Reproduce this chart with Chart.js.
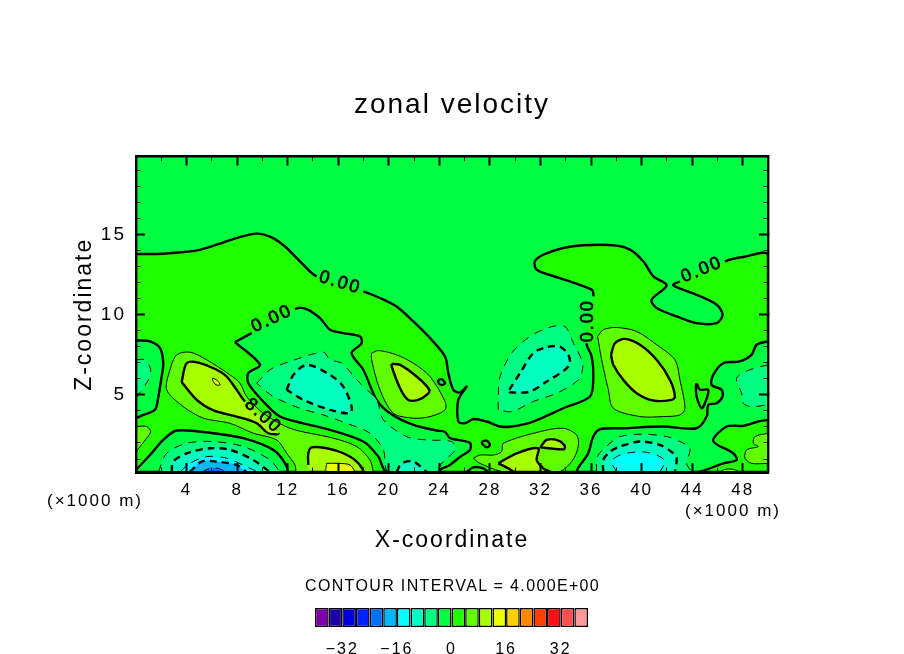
<!DOCTYPE html>
<html>
<head>
<meta charset="utf-8">
<style>
body{margin:0;background:#fff;}
#plot{position:absolute;left:0;top:0;}
#bar{position:absolute;left:290px;top:600px;}
.cap{position:absolute;font-family:"Liberation Sans",sans-serif;color:#000;white-space:nowrap;letter-spacing:2px;line-height:20px;}
</style>
<script src="https://cdn.jsdelivr.net/npm/chart.js@4"></script>
</head>
<body>
<canvas id="plot" width="904" height="654"></canvas>
<canvas id="bar" width="320" height="54"></canvas>
<div class="cap" style="left:47px;top:491px;font-size:17px;">(×1000 m)</div>
<div class="cap" style="left:685px;top:501px;font-size:17px;">(×1000 m)</div>
<div class="cap" style="left:305px;top:576px;font-size:16px;letter-spacing:1.35px;">CONTOUR INTERVAL = 4.000E+00</div>
<script>
const xMajorTicks=[4,8,12,16,20,24,28,32,36,40,44,48];
const xMinorTicks=[2,6,10,14,18,22,26,30,34,38,42,46,50];
const zMajorTicks=[5,10,15];
const zMinorTicks=[1,2,3,4,6,7,8,9,11,12,13,14,16,17,18,19];
const xRange=[0,50];
const zRange=[0.19,19.875];

// colour of each 4 unit band, lowest first (-40 to 40)
const bandColors=['#7f00a8','#1a00a5','#0000dc','#0020ff','#0070ff','#00b8ff','#00ffff','#00ffc0','#00ff80','#00ff40',
  '#20ff00','#60ff00','#a8ff00','#e8ff00','#ffd000','#ff8800','#ff4000','#ff1010','#ff5050','#ff9898'];
const bandCells=[1,1,1,1,1,1,1,1,1,1,1,1,1,1,1,1,1,1,1,1];
const bandNames=['-40','-36','-32','-28','-24','-20','-16','-12','-8','-4','0','4','8','12','16','20','24','28','32','36'];
const bandTicks=[-32,-16,0,16,32];

// contour lines, [x,z]
const zeroTop=[[0,13.79],[2.16,13.81],[3.48,13.9],[4.8,14.02],[6.38,14.38],[7.96,14.79],[9.55,15.07],[10.86,14.79],[11.92,14.17],[12.97,13.34],[14.29,12.4],[17.98,11.46],[19.3,11.05],[20.62,10.52],[21.94,9.59],[23.26,8.55],[24.45,7.4],[24.71,6.36],[25.1,5.32],[25.63,5.15],[26.16,5.53],[25.5,4.69],[25.5,3.34],[26.03,3.23],[26.69,3.5],[27.74,3.34],[28.8,3.03],[29.72,3.03],[31.43,3.34],[33.81,4.17],[35.92,4.9],[36.18,6.15],[36.05,7.4],[35.65,8.23],[36.18,11.15],[36.05,11.57],[33.54,12.29],[31.7,12.82],[31.56,13.34],[32.22,13.75],[33.81,14.17],[35.39,14.34],[37.76,14.34],[39.08,14.07],[40.13,13.34],[40.93,12.4],[41.98,11.84],[40.79,10.94],[41.19,10.42],[42.77,9.9],[44.35,9.48],[45.94,9.48],[46.41,10],[45.94,10.63],[44.35,11.25],[42.51,11.84],[43.03,12.09],[46.59,13.34],[48.05,13.61],[50,13.71],[50,0.19],[0,0.19]];
const zeroTongue=[[7.83,8.3],[9.15,8.86],[12.58,10.36],[13.5,10.36],[14.56,9.79],[15.35,9.07],[16.4,8.86],[17.72,8.65],[17.85,8.23],[17.06,7.61],[17.98,6.57],[19.04,4.69],[20.09,3.86],[21.94,3.13],[23.79,2.78],[24.45,2.69],[24.84,2.31],[25.47,2.19],[26.42,2],[26.42,1.56],[25.63,1.13],[24.84,0.63],[24.1,0.35],[24,0.19],[19.83,0.19],[19.17,1.15],[17.98,2.09],[15.35,2.82],[13.24,3.23],[11.39,3.65],[10.07,4.59],[8.89,5.73],[8.89,6.36],[9.81,6.88],[7.83,8.3]];
const zeroLeft=[[0,8.4],[1.11,8.34],[1.9,7.92],[2.16,6.98],[2.03,6.15],[1.77,4.9],[1.5,4.07],[0.58,3.75],[0,3.55]];
const zeroBottomLeft=[[0,0.32],[1.11,1.25],[2.16,2.19],[3.22,2.78],[6.12,2.61],[8.49,2.3],[10.86,1.57],[11.79,0.73],[11.92,0.19],[0,0.19]];
const zeroRight=[[50,8.34],[49.1,8.13],[48.7,7.5],[47.78,7.09],[46.46,6.98],[45.67,6.25],[45.54,5.63],[46.33,5.32],[46.41,4.9],[45.94,4.48],[45.28,4.38],[45.15,3.65],[44.35,2.92],[41.72,3.03],[38.55,2.92],[36.71,2.86],[36.18,2.4],[35.78,1.36],[34.99,0.19],[44.35,0.19],[46.46,0.73],[47.52,0.94],[47.25,1.36],[45.67,2.13],[46.73,3.03],[48.05,3.07],[49.23,3.34],[50,3.44]];
const zeroSliver=[[44.35,5.73],[44.62,5.32],[45.28,5.32],[45.01,4.48],[44.75,4.17],[44.35,4.9],[44.3,5.52],[44.35,5.73]];
const zeroDotA=[[23.92,5.94],[24.18,5.98],[24.45,5.73],[24.18,5.61],[23.92,5.77],[23.92,5.94]];
const zeroDotB=[[27.35,2.09],[27.74,2.15],[28,1.88],[27.74,1.73],[27.4,1.94],[27.35,2.09]];
const zeroDotC=[[26.16,0.19],[26.69,0.48],[27.48,0.42],[27.87,0.19]];

const fourLobe=[[12.66,0.19],[12.58,0.63],[11.92,1.36],[11.13,2.19],[9.28,2.61],[7.44,3.23],[5.33,3.55],[3.74,4.27],[2.43,5.32],[2.69,6.57],[3.22,7.5],[4.27,7.67],[5.59,7.19],[7.44,6.25],[8.23,5.73],[8.75,4.9],[10.07,3.86],[12.18,2.92],[15.61,2.3],[17.46,1.78],[18.51,0.94],[18.78,0.19]];
const fourMid=[[18.64,7.61],[19.17,7.77],[20.62,7.5],[21.94,6.98],[23.26,6.15],[24.45,4.59],[24.45,4.07],[23.26,3.65],[21.94,3.55],[20.36,3.86],[19.3,5.32],[18.64,7.19],[18.64,7.61]];
const fourRight=[[36.52,8.65],[36.97,9.07],[38.03,9.21],[39.61,8.96],[41.19,8.13],[42.64,7.19],[43.03,5.94],[43.43,4.17],[43.03,3.75],[41.72,3.65],[39.87,3.65],[37.76,4.17],[37.37,5.32],[36.84,7.19],[36.52,8.65]];
const fourBottom=[[26.69,1.05],[27.21,1.25],[28.27,1.25],[28.93,1.46],[29.06,1.98],[31.96,2.71],[33.81,2.92],[34.86,2.5],[34.99,1.78],[34.47,0.84],[33.41,0.19],[29.19,0.19],[27.21,0.73],[26.69,1.05]];
const fourEdgeLeft=[[0,3.03],[0.84,3.03],[1.16,2.71],[0.84,2.3],[0,1.46]];
const fourEdgeRight=[[50,2.61],[48.97,2.4],[48.84,1.98],[49.23,1.78],[48.31,1.57],[48.18,1.05],[48.7,0.73],[50,0.73]];
const fourSmall=[[46.2,0.19],[46.6,0.36],[47.25,0.36],[47.78,0.19]];

const eightLobe=[[3.61,5.8],[4.01,6.98],[4.93,7.02],[6.38,6.57],[7.17,6.15],[7.96,5.32],[8.62,4.59],[11.26,2.61],[10.47,2.61],[9.55,3.23],[7.96,3.65],[6.12,4.03],[4.8,4.69],[3.61,5.8]];
const eightBottom=[[13.63,0.63],[13.63,1.36],[13.9,1.73],[15.08,1.67],[16.4,1.36],[17.46,0.84],[17.93,0.19],[13.63,0.19]];
const eightMid=[[20.23,6.94],[20.89,6.88],[22.2,6.15],[23.21,5.32],[22.99,5],[22.34,4.69],[21.54,4.69],[20.89,5.42],[20.23,6.77],[20.23,6.94]];
const eightRight=[[37.58,7.5],[37.89,8.23],[38.68,8.5],[39.87,8.13],[41.19,7.19],[42.24,5.94],[42.64,4.9],[42.38,4.69],[40.93,4.65],[39.61,5.11],[38.55,5.94],[37.76,6.88],[37.58,7.5]];
const eightBottomMid=[[28.66,0.73],[30.11,1.36],[31.83,1.67],[31.7,0.94],[32.22,0.42],[32.75,0.19],[29.98,0.19],[29.45,0.42],[28.66,0.73]];
const eightSmall=[[32.01,1.77],[32.49,2.19],[33.28,2.19],[33.88,1.88],[33.88,1.61],[32.01,1.73],[32.01,1.77]];

const twelveTiny=[[6.07,6.05],[6.43,5.9],[6.65,5.63],[6.33,5.63],[6.07,5.9],[6.07,6.05]];
const twelveBottom=[[15.08,0.73],[16,0.73],[16.93,0.63],[17.25,0.19],[15.08,0.19],[15.08,0.73]];

const minusFourLeft=[[0,7.19],[0.71,7.19],[1.16,6.57],[0.98,5.94],[0,4.8]];
const minusFourBottomLeft=[[1.77,0.19],[2.43,1.36],[4.01,1.98],[6.12,2.09],[8.49,1.78],[10.6,0.94],[11.39,0.19]];
const minusFourTongue=[[9.55,5.73],[10.6,6.57],[12.18,7.09],[14.82,7.67],[15.35,7.19],[16.27,6.98],[17.72,5.73],[19.04,4.69],[19.57,3.44],[21.41,2.4],[22.99,2.19],[24.97,2.09],[25.24,1.57],[24.45,0.94],[23.92,0.48],[23.65,0.19],[19.96,0.19],[19.57,1.57],[18.51,2.61],[16.67,3.23],[14.82,3.75],[12.97,4.17],[10.86,4.9],[9.55,5.73]];
const minusFourCentre=[[28.66,4.07],[28.66,4.9],[28.8,6.15],[29.72,7.61],[31.17,8.65],[32.75,9.23],[33.94,9.27],[34.6,8.23],[35.26,7.19],[35.34,6.67],[35,5.94],[33.28,5.11],[31.43,4.59],[29.72,3.96],[28.66,4.07]];
const minusFourRight=[[50,6.88],[48.57,6.57],[47.52,6.05],[47.91,5.11],[48.05,4.48],[48.7,4.27],[50,4.38]];
const minusFourBottom=[[36.44,0.19],[36.5,1.15],[37.5,1.98],[38.29,2.4],[40.13,2.55],[41.98,2.4],[43.03,2.09],[43.83,1.67],[43.56,0.73],[43.96,0.19]];

const minusEightBottomLeft=[[2.82,0.19],[2.95,0.84],[4.01,1.36],[5.85,1.67],[7.44,1.57],[9.28,0.94],[10.6,0.19]];
const minusEightTongue=[[11.92,5.32],[12.45,6.25],[13.5,6.88],[15.35,6.25],[16.4,5.52],[17.06,4.27],[16.93,3.86],[15.35,4.07],[13.24,4.69],[11.92,5.32]];
const minusEightFoot=[[20.62,0.19],[21.02,0.73],[21.94,0.84],[22.99,0.19]];
const minusEightCentre=[[29.53,5.32],[30.38,6.36],[31.43,7.61],[32.49,7.98],[33.54,8.02],[34.2,7.5],[34.33,6.98],[33.94,6.57],[32.49,5.84],[31.17,5.21],[29.59,5.17],[29.53,5.32]];
const minusEightBottom=[[36.97,0.19],[36.97,0.94],[37.5,1.46],[38.29,1.78],[39.87,2.09],[41.45,1.88],[42.51,1.36],[42.77,1.05],[42.64,0.19]];

const minusTwelveBottomLeft=[[3.48,0.19],[4.27,0.73],[5.59,1.15],[7.17,1.05],[9.02,0.42],[9.68,0.19]];
const minusTwelveBottom=[[38.03,0.19],[37.63,0.84],[38.29,1.25],[39.34,1.42],[40.4,1.42],[41.45,1.15],[41.85,0.84],[41.45,0.19]];
const minusSixteenBottomLeft=[[4.27,0.19],[5.19,0.84],[6.38,0.84],[7.96,0.63],[8.75,0.19]];
const minusTwentyBottomLeft=[[5.19,0.19],[5.85,0.42],[6.51,0.42],[7.17,0.19]];

// text on the contours: x, z, text, angle
const contourLabels=[[16.14,12,'0.00',17],[10.76,9.75,'0.00',-25],[10.05,3.69,'8.00',42],[35.76,9.63,'0.00',-90],[44.77,12.81,'0.00',-22]];

const font='"Liberation Sans",sans-serif';

function bandColor(low){ return bandColors[(low+40)/4]; }
function nearLabel(p0,p1){
  const mx=(p0.parsed.x+p1.parsed.x)/2, mz=(p0.parsed.y+p1.parsed.y)/2;
  return contourLabels.some(l=>Math.abs(l[0]-mx)<0.6&&Math.abs(l[1]-mz)<0.5);
}
// low = bottom of the colour band inside, line = value of the contour
// one dataset for the fill, one for the line: a segment style would split the fill
function contour(points,low,line){
  return [
    {data:points,showLine:true,fill:'shape',backgroundColor:bandColor(low),borderWidth:0,pointRadius:0,tension:0.3},
    {data:points,showLine:true,fill:false,borderColor:'#000',
      borderWidth:line%8===0?2.4:1,borderDash:line<0?(line%8===0?[7,5]:[8,7]):[],
      pointRadius:0,tension:0.3,
      segment:{borderColor:c=>nearLabel(c.p0,c.p1)?'rgba(0,0,0,0)':undefined}}
  ];
}

// painted in this order, later ones on top
const painted=[
  contour(zeroTop,0,0),contour(zeroTongue,-4,0),contour(zeroLeft,-4,0),contour(zeroBottomLeft,-4,0),contour(zeroRight,-4,0),
  contour(zeroSliver,0,0),contour(zeroDotA,-4,0),contour(zeroDotB,0,0),contour(zeroDotC,0,0),
  contour(fourLobe,4,4),contour(fourMid,4,4),contour(fourRight,4,4),contour(fourBottom,4,4),contour(fourEdgeLeft,4,4),contour(fourEdgeRight,4,4),contour(fourSmall,4,4),
  contour(eightLobe,8,8),contour(eightBottom,8,8),contour(eightMid,8,8),contour(eightRight,8,8),contour(eightBottomMid,8,8),contour(eightSmall,8,8),
  contour(twelveTiny,12,12),contour(twelveBottom,12,12),
  contour(minusFourLeft,-8,-4),contour(minusFourBottomLeft,-8,-4),contour(minusFourTongue,-8,-4),contour(minusFourCentre,-8,-4),contour(minusFourRight,-8,-4),contour(minusFourBottom,-8,-4),
  contour(minusEightBottomLeft,-12,-8),contour(minusEightTongue,-12,-8),contour(minusEightFoot,-12,-8),contour(minusEightCentre,-12,-8),contour(minusEightBottom,-12,-8),
  contour(minusTwelveBottomLeft,-16,-12),contour(minusTwelveBottom,-16,-12),
  contour(minusSixteenBottomLeft,-20,-16),
  contour(minusTwentyBottomLeft,-24,-20)
].flat();

// inward tick axis without labels, the frame sides come from these too
function tickAxis(position,range,values,len,width,frame,size){
  return {type:'linear',position:position,min:range[0],max:range[1],weight:size?1:0,
    afterBuildTicks:s=>{s.ticks=values.map(v=>({value:v}));},
    afterFit:s=>{if(s.isHorizontal()) s.height=size||0; else s.width=size||0;},
    ticks:{display:false},
    border:{display:frame,color:'#000',width:2.4,z:2},
    grid:{drawOnChartArea:false,drawTicks:true,tickLength:-len,tickColor:'#000',tickWidth:width,z:1}};
}

const plotBack={id:'plotBack',
  beforeDraw(chart){
    const a=chart.chartArea, c=chart.ctx;
    c.letterSpacing='2px';
    c.save(); c.fillStyle=bandColor(-4); c.fillRect(a.left,a.top,a.width,a.height); c.restore();
  },
  afterDatasetsDraw(chart){
    const c=chart.ctx;
    c.save();
    c.fillStyle='#000'; c.strokeStyle='#000'; c.lineWidth=0.7;
    c.font='18px '+font; c.textAlign='center'; c.textBaseline='middle';
    contourLabels.forEach(l=>{
      c.save();
      c.translate(chart.scales.x.getPixelForValue(l[0]),chart.scales.y.getPixelForValue(l[1]));
      c.rotate(l[3]*Math.PI/180);
      c.fillText(l[2],0,0);
      c.strokeText(l[2],0,0);
      c.restore();
    });
    c.restore();
  }
};

new Chart(document.getElementById('plot'),{
  type:'scatter',
  data:{datasets:painted.slice().reverse()},
  plugins:[plotBack],
  options:{
    responsive:false,animation:false,devicePixelRatio:1,
    layout:{padding:0},
    plugins:{
      legend:{display:false},tooltip:{enabled:false},
      title:{display:true,text:'zonal velocity',color:'#000',font:{family:font,size:28,weight:'normal'},padding:{top:88,bottom:35}}
    },
    scales:{
      x:{type:'linear',position:'bottom',min:xRange[0],max:xRange[1],weight:1,
        afterBuildTicks:s=>{s.ticks=xMajorTicks.map(v=>({value:v}));},
        afterFit:s=>{s.height=182;},
        ticks:{color:'#000',font:{family:font,size:17},padding:17,maxRotation:0,autoSkip:false},
        border:{color:'#000',width:3,z:2},
        grid:{drawOnChartArea:false,tickLength:-9,tickColor:'#000',tickWidth:2,z:1},
        title:{display:true,text:'X-coordinate',color:'#000',font:{family:font,size:23},padding:{top:0,bottom:100}}},
      y:{type:'linear',position:'left',min:zRange[0],max:zRange[1],weight:1,
        afterBuildTicks:s=>{s.ticks=zMajorTicks.map(v=>({value:v}));},
        afterFit:s=>{s.width=136;},
        ticks:{color:'#000',font:{family:font,size:19},padding:19,autoSkip:false},
        border:{color:'#000',width:2.4,z:2},
        grid:{drawOnChartArea:false,tickLength:-9,tickColor:'#000',tickWidth:2,z:1},
        title:{display:true,text:'Z-coordinate',color:'#000',font:{family:font,size:23},padding:{top:71,bottom:0}}},
      xMinor:tickAxis('bottom',xRange,xMinorTicks,4.5,1,false),
      xTop:tickAxis('top',xRange,xMajorTicks,9,2,true),
      xTopMinor:tickAxis('top',xRange,xMinorTicks,4.5,1,false),
      yMinor:tickAxis('left',zRange,zMinorTicks,4.5,1,false),
      yRight:tickAxis('right',zRange,zMajorTicks,9,2,true,136),
      yRightMinor:tickAxis('right',zRange,zMinorTicks,4.5,1,false)
    }
  }
});

// colour key under the plot
new Chart(document.getElementById('bar'),{
  type:'bar',
  data:{labels:bandNames,datasets:[{data:bandCells,backgroundColor:bandColors,borderColor:'#000',borderWidth:1.5,borderSkipped:false,inflateAmount:0,barPercentage:1,categoryPercentage:1}]},
  plugins:[{id:'spacing',beforeDraw(chart){chart.ctx.letterSpacing='2px';}}],
  options:{
    responsive:false,animation:false,devicePixelRatio:1,
    layout:{padding:{left:25,right:22,top:8,bottom:0}},
    plugins:{legend:{display:false},tooltip:{enabled:false}},
    scales:{
      x:{display:false},
      y:{display:false,min:0,max:1},
      xKey:{type:'linear',position:'bottom',min:-40,max:40,offset:false,
        afterBuildTicks:s=>{s.ticks=bandTicks.map(v=>({value:v}));},
        afterFit:s=>{s.height=27;},
        ticks:{color:'#000',font:{family:font,size:16},padding:5,autoSkip:false,maxRotation:0,callback:v=>String(v).replace('-','\u2212')},
        border:{display:false},grid:{display:false}}
    }
  }
});
</script>
</body>
</html>
